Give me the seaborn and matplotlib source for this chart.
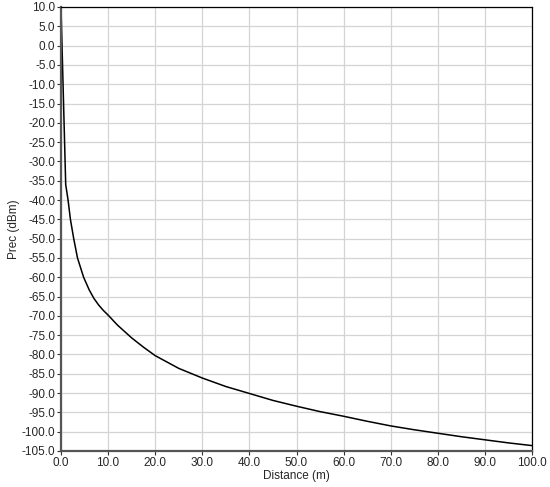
import numpy as np
import pandas as pd
import matplotlib
matplotlib.use('Agg')
import matplotlib.pyplot as plt
import seaborn as sns
from matplotlib.ticker import FormatStrFormatter, MultipleLocator

# values
distance = [0, 1, 1.5, 2, 2.7, 3.5, 4.8, 6, 7, 8, 9, 10, 12, 15, 17.5, 20,
            25, 30, 35, 40, 45, 50, 55, 60, 65, 70, 75, 80, 85, 90, 95, 100]
prec = [10.0, -36.0, -40.0, -45.0, -50.0, -55.0, -60.0, -63.3, -65.5,
        -67.2, -68.6, -69.8, -72.4, -75.7, -78.1, -80.3, -83.6, -86.1,
        -88.3, -90.1, -91.9, -93.4, -94.8, -96.0, -97.3, -98.5, -99.5,
        -100.4, -101.3, -102.1, -102.9, -103.6]

df = pd.DataFrame({'Distance (m)': distance, 'Prec (dBm)': prec})

sns.set_theme(style='whitegrid')
plt.rcParams['font.family'] = ['Liberation Sans', 'DejaVu Sans']

fig = plt.figure(figsize=(5.5, 4.87), dpi=100)
ax = fig.add_axes([61 / 550, 36 / 487, 471 / 550, 444 / 487])

sns.lineplot(data=df, x='Distance (m)', y='Prec (dBm)', ax=ax,
             color='black', linewidth=1.1)

ax.set_xlim(0, 100)
ax.set_ylim(-105, 10)
ax.xaxis.set_major_locator(MultipleLocator(10))
ax.yaxis.set_major_locator(MultipleLocator(5))
ax.xaxis.set_major_formatter(FormatStrFormatter('%.1f'))
ax.yaxis.set_major_formatter(FormatStrFormatter('%.1f'))

ax.grid(True, color='#d4d4d4', linewidth=0.9)
ax.tick_params(axis='both', which='major', direction='out', length=3,
               width=0.8, color='#333333', labelsize=8.5, pad=1,
               bottom=True, left=True)
for side in ['top', 'right']:
    ax.spines[side].set_color('black')
    ax.spines[side].set_linewidth(0.9)
for side in ['left', 'bottom']:
    ax.spines[side].set_color('#555555')
    ax.spines[side].set_linewidth(1.6)

ax.set_xlabel('Distance (m)', fontsize=8.5, labelpad=1)
ax.set_ylabel('Prec (dBm)', fontsize=8.5, labelpad=1)

fig.savefig('out.png', dpi=100)
